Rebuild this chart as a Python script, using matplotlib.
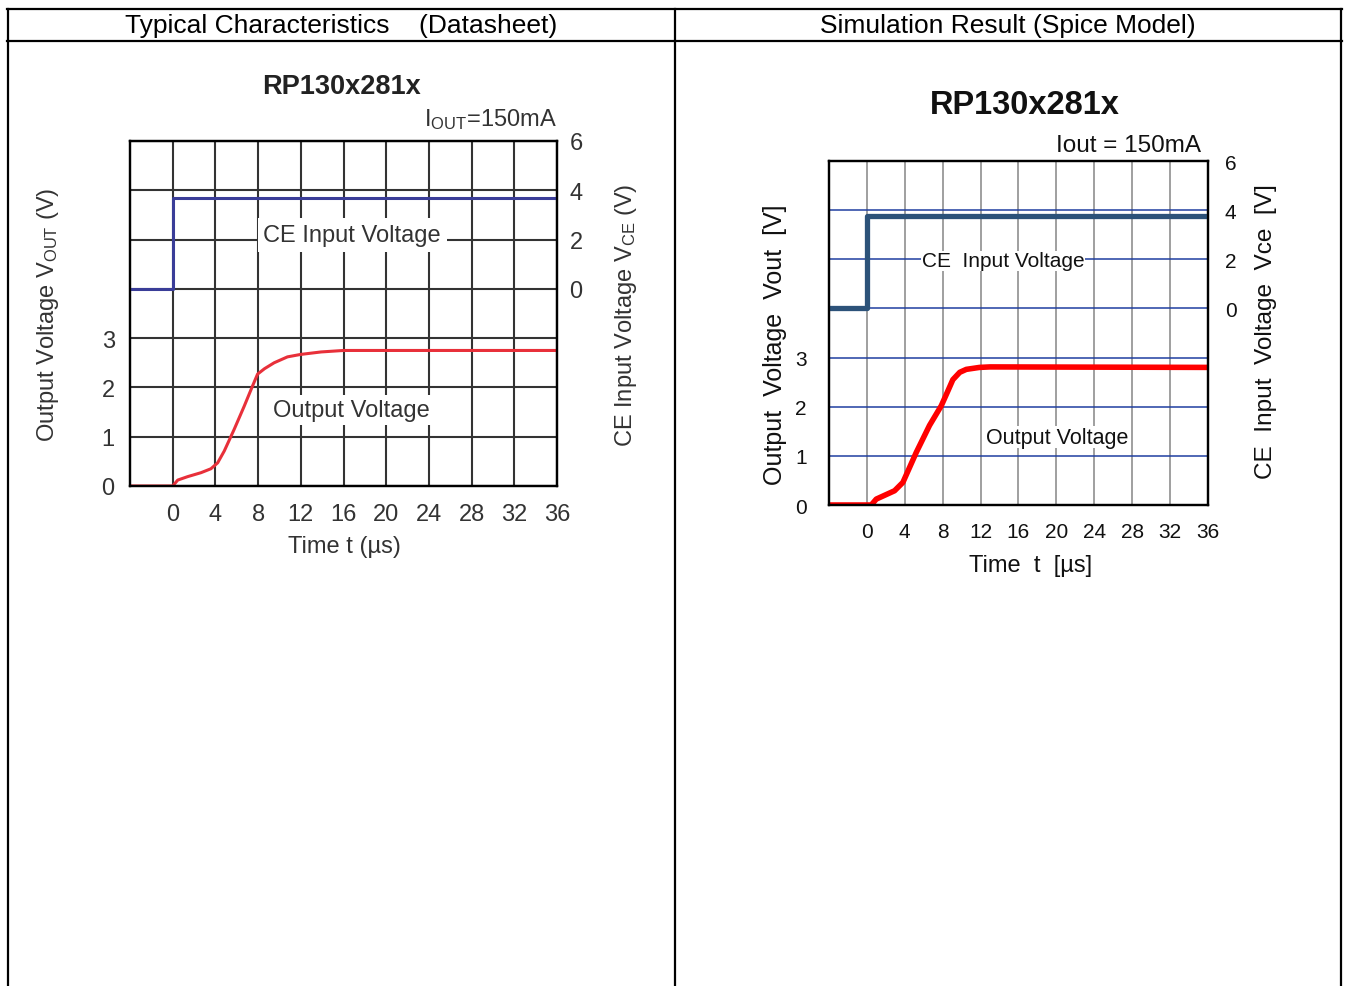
import matplotlib
matplotlib.use('Agg')
import matplotlib.pyplot as plt
from matplotlib.lines import Line2D

W, H = 1348, 987
plt.rcParams['font.family'] = ['Liberation Sans', 'DejaVu Sans']
plt.rcParams['mathtext.fontset'] = 'custom'
plt.rcParams['mathtext.rm'] = 'Liberation Sans'
plt.rcParams['mathtext.it'] = 'Liberation Sans:italic'
plt.rcParams['mathtext.bf'] = 'Liberation Sans:bold'

# ---------------- data ----------------
header_labels = ['Typical Characteristics    (Datasheet)', 'Simulation Result (Spice Model)']
chart_title = 'RP130x281x'
time_ticks = [0, 4, 8, 12, 16, 20, 24, 28, 32, 36]
t_min, t_max = -4, 36
vout_ticks = [0, 1, 2, 3]
vce_ticks = [0, 2, 4, 6]

# Datasheet curves
ds_t_ce = [-4, 0, 0, 36]
ds_vce = [0, 0, 3.7, 3.7]
ds_t_out = [-4, 0, 0.47, 1.4, 2.65, 3.58, 4.21, 4.83, 5.76, 6.7, 7.48, 7.95,
            8.6, 9.5, 10.75, 12, 13.9, 16, 20, 36]
ds_vout = [0, 0, 0.12, 0.19, 0.27, 0.35, 0.47, 0.71, 1.15, 1.62, 2.03, 2.27,
           2.38, 2.5, 2.62, 2.67, 2.72, 2.75, 2.75, 2.75]

# Simulation curves
sim_t_ce = [-4, 0, 0, 36]
sim_vce = [0, 0, 3.78, 3.78]
sim_t_out = [-4, 0.46, 0.99, 2.92, 3.8, 5.21, 6.61, 7.85, 8.5, 9.07, 9.8, 10.49, 11.89, 13, 36]
sim_vout = [0, 0, 0.12, 0.29, 0.46, 1.07, 1.62, 2.02, 2.3, 2.55, 2.7, 2.76, 2.8, 2.81, 2.8]


def px_rect(x0, y0, x1, y1):
    return [x0 / W, 1 - y1 / H, (x1 - x0) / W, (y1 - y0) / H]


fig = plt.figure(figsize=(W / 100, H / 100), dpi=100)

# ---------------- table frame ----------------
def fline(xs, ys, lw=1.6):
    fig.add_artist(Line2D([x / W for x in xs], [1 - y / H for y in ys],
                          transform=fig.transFigure, color='black', lw=lw))

fline([7, 1342], [10, 10])
fline([7, 1342], [42, 42])
fline([8, 8], [10, 987])
fline([675, 675], [10, 987])
fline([1341, 1341], [10, 987])
fig.text(341 / W, 1 - 26 / H, header_labels[0], ha='center', va='center', fontsize=19)
fig.text(1008 / W, 1 - 26 / H, header_labels[1], ha='center', va='center', fontsize=19)


def setup(ax, ax2, grid_x_color, grid_y_color, grid_lw, tick_fs, padx, padl, padr, tcol):
    ax.set_xlim(t_min, t_max)
    ax.set_ylim(0, 7)
    ax2.set_ylim(-8, 6)
    ax.set_xticks(time_ticks)
    ax.set_xticklabels([str(t) for t in time_ticks])
    ylev = list(range(0, 8))
    ax.set_yticks(ylev)
    ax.set_yticklabels([str(v) if v in vout_ticks else '' for v in ylev])
    ax2.set_yticks(vce_ticks)
    ax2.set_yticklabels([str(v) for v in vce_ticks])
    ax.set_axisbelow(True)
    ax.grid(axis='x', color=grid_x_color, lw=grid_lw)
    ax.grid(axis='y', color=grid_y_color, lw=grid_lw)
    ax.tick_params(axis='x', length=0, pad=padx, labelsize=tick_fs, colors=tcol)
    ax.tick_params(axis='y', length=0, pad=padl, labelsize=tick_fs, colors=tcol)
    ax2.tick_params(axis='y', length=0, pad=padr, labelsize=tick_fs, colors=tcol)
    for a in (ax, ax2):
        for s in a.spines.values():
            s.set_color('black')
            s.set_linewidth(1.6)


# ---------------- left: datasheet ----------------
gc = '#333333'
axL = fig.add_axes(px_rect(130, 142, 557, 487))
axL2 = axL.twinx()
setup(axL, axL2, '#333333', '#333333', 1.5, 17, 12, 11, 9, gc)
axL.plot(ds_t_out, ds_vout, color='#e8303a', lw=2.2, zorder=2)
axL2.plot(ds_t_ce, ds_vce, color='#3a3d98', lw=2.2)
axL.text(16.8, 5.09, 'CE Input Voltage', ha='center', va='center', fontsize=17,
         color=gc, bbox=dict(facecolor='white', edgecolor='none', pad=4), zorder=3)
axL.text(16.7, 1.54, 'Output Voltage', ha='center', va='center', fontsize=17,
         color=gc, bbox=dict(facecolor='white', edgecolor='none', pad=3), zorder=3)
axL.set_xlabel('Time t (\u00b5s)', fontsize=17, color=gc)
axL.xaxis.set_label_coords((344 - 130) / 427, (487 - 547) / 345)
axL.xaxis.label.set_va('center')
axL.set_ylabel('Output Voltage V$_{\\mathrm{OUT}}$ (V)', fontsize=17, color=gc)
axL.yaxis.set_label_coords((48 - 130) / 427, (487 - 315) / 345)
axL.yaxis.label.set_va('center')
axL2.set_ylabel('CE Input Voltage V$_{\\mathrm{CE}}$ (V)', fontsize=17, color=gc, rotation=90)
axL2.yaxis.set_label_coords((626 - 130) / 427, (487 - 315) / 345)
axL2.yaxis.label.set_va('center')
fig.text(341 / W, 1 - 87 / H, chart_title, ha='center', va='center', fontsize=19.5,
         fontweight='bold', color='#222222')
fig.text(557 / W, 1 - 120 / H, 'I$_{\\mathrm{OUT}}$=150mA', ha='right', va='center',
         fontsize=17, color=gc)

# ---------------- right: simulation ----------------
tc = '#111111'
axR = fig.add_axes(px_rect(829, 162, 1208, 506))
axR2 = axR.twinx()
setup(axR, axR2, '#858585', '#1f3fa0', 1.1, 15, 12, 16, 12, tc)
axR.plot(sim_t_out, sim_vout, color='#ff0000', lw=4, zorder=2, solid_joinstyle='round')
axR2.plot(sim_t_ce, sim_vce, color='#2c5279', lw=3.8)
axR.text(14.36, 4.97, 'CE  Input Voltage', ha='center', va='center', fontsize=15,
         color=tc, bbox=dict(facecolor='white', edgecolor='none', pad=0.5), zorder=3)
axR.text(20.06, 1.38, 'Output Voltage', ha='center', va='center', fontsize=15.5,
         color=tc, bbox=dict(facecolor='white', edgecolor='none', pad=0.5), zorder=3)
axR.set_xlabel('Time  t  [\u00b5s]', fontsize=17, color=tc)
axR.xaxis.set_label_coords((1031 - 829) / 379, (506 - 566) / 344)
axR.xaxis.label.set_va('center')
axR.set_ylabel('Output  Voltage  Vout  [V]', fontsize=18, color=tc)
axR.yaxis.set_label_coords((775 - 829) / 379, (506 - 345) / 344)
axR.yaxis.label.set_va('center')
axR2.set_ylabel('CE  Input  Voltage  Vce  [V]', fontsize=17.6, color=tc, rotation=90)
axR2.yaxis.set_label_coords((1266 - 829) / 379, (506 - 332) / 344)
axR2.yaxis.label.set_va('center')
fig.text(1025 / W, 1 - 105 / H, chart_title, ha='center', va='center', fontsize=23.5,
         fontweight='bold', color=tc)
fig.text(1201 / W, 1 - 146 / H, 'Iout = 150mA', ha='right', va='center',
         fontsize=17.5, color=tc)

fig.savefig('out.png', dpi=100)
